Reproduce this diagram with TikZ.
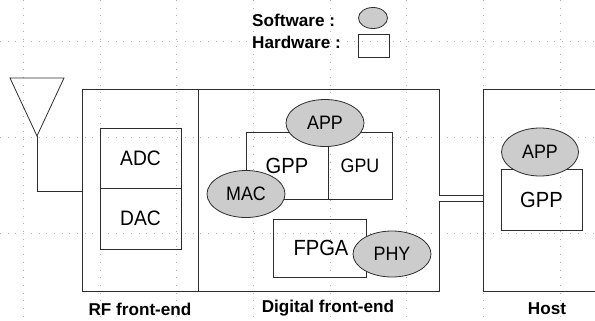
\documentclass[tikz,border=0pt]{standalone}
\usepackage{fontspec}
\setmainfont{Liberation Sans}
\newfontfamily\narrowfont{Liberation Sans}[FakeStretch=0.92]
\usetikzlibrary{shapes.geometric}
\definecolor{blobgray}{RGB}{204,204,204}
\definecolor{linegray}{RGB}{45,45,45}
\definecolor{gridgray}{RGB}{175,175,175}
\tikzset{
  hwbox/.style={draw=linegray, line width=0.8pt, inner sep=0pt, font=\narrowfont\fontsize{21}{24}\selectfont},
  swblob/.style={ellipse, draw=linegray, fill=blobgray, line width=0.8pt, inner sep=0pt,
    minimum width=78bp, minimum height=47bp, font=\narrowfont\fontsize{19.5}{22}\selectfont},
  caption/.style={inner sep=0pt, font=\bfseries\fontsize{17.2}{20}\selectfont}
}

\begin{document}
\begin{tikzpicture}[x=1bp, y=-1bp]
\useasboundingbox (0,0) rectangle (595,320);
\clip (0,0) rectangle (595,320);
% background grid
\foreach \k in {0,...,7}
  \draw[gridgray, dash pattern=on 0.8bp off 6.9bp] (23.33+76.67*\k,0) -- (23.33+76.67*\k,320);
\foreach \y in {41,137,233}
  \draw[gridgray, dash pattern=on 0.8bp off 6.9bp] (0,\y) -- (595,\y);

% legend
\node[caption, anchor=west] (swtext) at (252,20) {Software :};
\node[caption, anchor=west] (hwtext) at (252,42) {Hardware :};
\node[swblob, minimum width=29bp, minimum height=21bp] (swkey) at (373,18) {};
\node[hwbox, minimum width=31bp, minimum height=23bp] (hwkey) at (373.5,45.5) {};

% antenna
\coordinate (antl) at (10,78);
\coordinate (antr) at (64,78);
\coordinate (anttip) at (37,136);
\coordinate (antfeed) at (37,191);
\draw[linegray, line width=0.8pt] (antl) -- (antr) -- (anttip) -- cycle;

% front-ends and host
\node[hwbox, minimum width=116bp, minimum height=202bp] (rf) at (140,190) {};
\node[hwbox, minimum width=241bp, minimum height=202bp] (dfe) at (318.5,190) {};
\node[hwbox, minimum width=140bp, minimum height=202bp] (host) at (553,190) {};
\draw[linegray, line width=0.8pt] (anttip) -- (antfeed) -- (antfeed -| rf.west);
\coordinate (link) at (0,198.5);
\draw[linegray, line width=0.8pt, double, double distance=5.5bp] (dfe.east |- link) -- (host.west |- link);

% RF front-end
\node[hwbox, minimum width=81bp, minimum height=60bp] (adc) at (140.5,158) {ADC};
\node[hwbox, minimum width=81bp, minimum height=61bp] (dac) at (140.5,218.5) {DAC};

% digital front-end
\node[hwbox, minimum width=82bp, minimum height=67bp, font=\narrowfont\fontsize{22}{24}\selectfont] (gpp) at (287,165.5) {GPP};
\node[hwbox, minimum width=64bp, minimum height=67bp, font=\narrowfont\fontsize{19.5}{22}\selectfont] (gpu) at (360,165.5) {GPU};
\node[hwbox, minimum width=93bp, minimum height=58bp, font=\narrowfont\fontsize{22}{24}\selectfont, text width=88bp] (fpga) at (319.5,248) {\hspace*{18bp}FPGA};
\node[swblob] (app) at (325,123) {APP};
\node[swblob] (mac) at (246,194) {MAC};
\node[swblob, minimum height=46bp] (phy) at (392,254) {PHY};

% host
\node[hwbox, minimum width=81bp, minimum height=61bp, font=\narrowfont\fontsize{22}{24}\selectfont] (hgpp) at (541.5,199.5) {GPP};
\node[swblob, minimum width=77bp, minimum height=48bp] (happ) at (540,152) {APP};

% captions
\node[caption] (rfcap) at (140,309) {RF front-end};
\node[caption] (dfecap) at (328,308) {Digital front-end};
\node[caption] (hostcap) at (547,309) {Host};
\end{tikzpicture}
\end{document}
